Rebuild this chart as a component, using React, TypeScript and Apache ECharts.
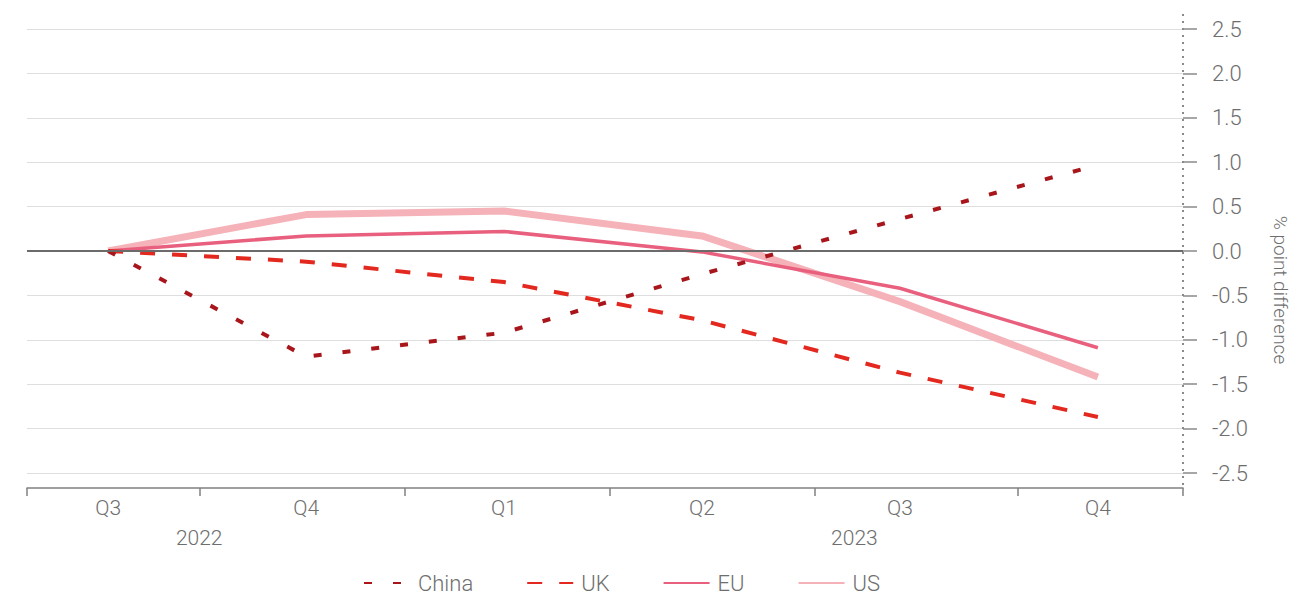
import React, { useEffect, useRef } from 'react';
import * as echarts from 'echarts';

const quarterLabels = ['Q3', 'Q4', 'Q1', 'Q2', 'Q3', 'Q4'];
const quarterIndex = [0, 1, 2, 3, 4, 5];
const yearLabels = ['2022', '2023'];
const yearLabelPositions = [0.46, 3.77];
const xTickPositions = [-0.41, 0.465, 1.5, 2.535, 3.57, 4.595, 5.43];
const xMin = -0.41;
const xMax = 5.43;

const chinaValues = [0, -1.19, -0.92, -0.26, 0.36, 0.97];
const ukValues = [0, -0.12, -0.35, -0.78, -1.37, -1.87];
const euValues = [0, 0.17, 0.22, -0.01, -0.42, -1.09];
const usValues = [0, 0.41, 0.45, 0.17, -0.57, -1.42];

const yMin = -2.5;
const yMax = 2.5;
const yInterval = 0.5;

const FONT = 'Roboto';
const TEXT_COLOR = '#6e6e6e';

export default function App() {
  const ref = useRef<HTMLDivElement>(null);
  useEffect(() => {
    if (!ref.current) return;
    const chart = echarts.init(ref.current, undefined, { renderer: 'svg' });
    const pts = (vals: number[]) => quarterIndex.map((x, i) => [x, vals[i]]);
    const nearest = (arr: number[], v: number) => {
      let best = 0;
      arr.forEach((a, i) => {
        if (Math.abs(a - v) < Math.abs(arr[best] - v)) best = i;
      });
      return best;
    };
    chart.setOption({
      animation: false,
      textStyle: { fontFamily: FONT, fontWeight: 300 },
      grid: { left: 27, right: 110, top: 29, bottom: 124, containLabel: false },
      legend: {
        top: 572,
        left: 363,
        padding: 0,
        itemWidth: 46,
        itemHeight: 14,
        itemGap: 53,
        data: ['China', 'UK', 'EU', 'US'],
        itemStyle: { color: 'rgba(0,0,0,0)', borderColor: 'rgba(0,0,0,0)', borderWidth: 0 },
        textStyle: { fontSize: 22, color: TEXT_COLOR, fontFamily: FONT, fontWeight: 300, padding: [0, 0, 0, 3] },
      },
      xAxis: [
        {
          type: 'value',
          min: xMin,
          max: xMax,
          position: 'bottom',
          offset: 15,
          splitLine: { show: false },
          axisLine: { show: true, onZero: false, lineStyle: { color: '#808080', width: 1.5 } },
          axisTick: {
            show: true,
            length: 8,
            inside: false,
            customValues: xTickPositions,
            lineStyle: { color: '#808080', width: 1.5 },
          },
          axisLabel: {
            customValues: quarterIndex,
            margin: 9,
            fontSize: 21,
            color: TEXT_COLOR,
            fontFamily: FONT,
            fontWeight: 300,
            formatter: (v: number) => quarterLabels[nearest(quarterIndex, v)],
          },
        },
        {
          type: 'value',
          min: xMin,
          max: xMax,
          position: 'bottom',
          offset: 45,
          splitLine: { show: false },
          axisLine: { show: false, onZero: false },
          axisTick: { show: false },
          axisLabel: {
            customValues: yearLabelPositions,
            margin: 9,
            fontSize: 21,
            color: TEXT_COLOR,
            fontFamily: FONT,
            fontWeight: 300,
            formatter: (v: number) => yearLabels[nearest(yearLabelPositions, v)],
          },
        },
      ],
      yAxis: {
        type: 'value',
        position: 'right',
        min: yMin,
        max: yMax,
        interval: yInterval,
        axisLine: { show: false, onZero: false },
        axisTick: { show: true, length: 14, inside: false, lineStyle: { color: '#8a8a8a', width: 1.5 } },
        splitLine: { show: true, lineStyle: { color: '#dedede', width: 1.2 } },
        axisLabel: {
          margin: 29,
          fontSize: 22,
          color: TEXT_COLOR,
          fontFamily: FONT,
          fontWeight: 300,
          formatter: (v: number) => v.toFixed(1),
        },
      },
      graphic: [
        {
          type: 'line',
          shape: { x1: 1183, y1: 14, x2: 1183, y2: 488 },
          style: { stroke: '#8a8a8a', lineWidth: 2, lineDash: [2, 5] },
          silent: true,
          z: 5,
        },
        {
          type: 'text',
          x: 1280,
          y: 290,
          rotation: -Math.PI / 2,
          style: {
            text: '% point difference',
            fill: TEXT_COLOR,
            fontSize: 19,
            fontFamily: FONT,
            fontWeight: 300,
            align: 'center',
            verticalAlign: 'middle',
          },
          silent: true,
        },
      ],
      series: [
        {
          type: 'line',
          name: 'zero',
          data: [],
          z: 1,
          silent: true,
          markLine: {
            silent: true,
            symbol: 'none',
            label: { show: false },
            lineStyle: { color: '#6b6b6b', width: 2, type: 'solid' },
            data: [{ yAxis: 0 }],
          },
        },
        {
          type: 'line',
          name: 'US',
          data: pts(usValues),
          symbol: 'none',
          z: 2,
          color: '#f5b2b8',
          lineStyle: { color: '#f5b2b8', width: 7, type: 'solid' },
        },
        {
          type: 'line',
          name: 'EU',
          data: pts(euValues),
          symbol: 'none',
          z: 3,
          color: '#e9607f',
          lineStyle: { color: '#e9607f', width: 3.5, type: 'solid' },
        },
        {
          type: 'line',
          name: 'UK',
          data: pts(ukValues),
          symbol: 'none',
          z: 4,
          color: '#e3291f',
          lineStyle: { color: '#e3291f', width: 4, type: [15, 17] },
        },
        {
          type: 'line',
          name: 'China',
          data: pts(chinaValues),
          symbol: 'none',
          z: 4,
          color: '#a8161b',
          lineStyle: { color: '#a8161b', width: 4, type: [8, 21] },
        },
      ],
    });
    return () => chart.dispose();
  }, []);
  return (
    <div
      ref={ref}
      style={{ position: 'absolute', left: 0, top: 0, width: 1293, height: 597 }}
    />
  );
}
